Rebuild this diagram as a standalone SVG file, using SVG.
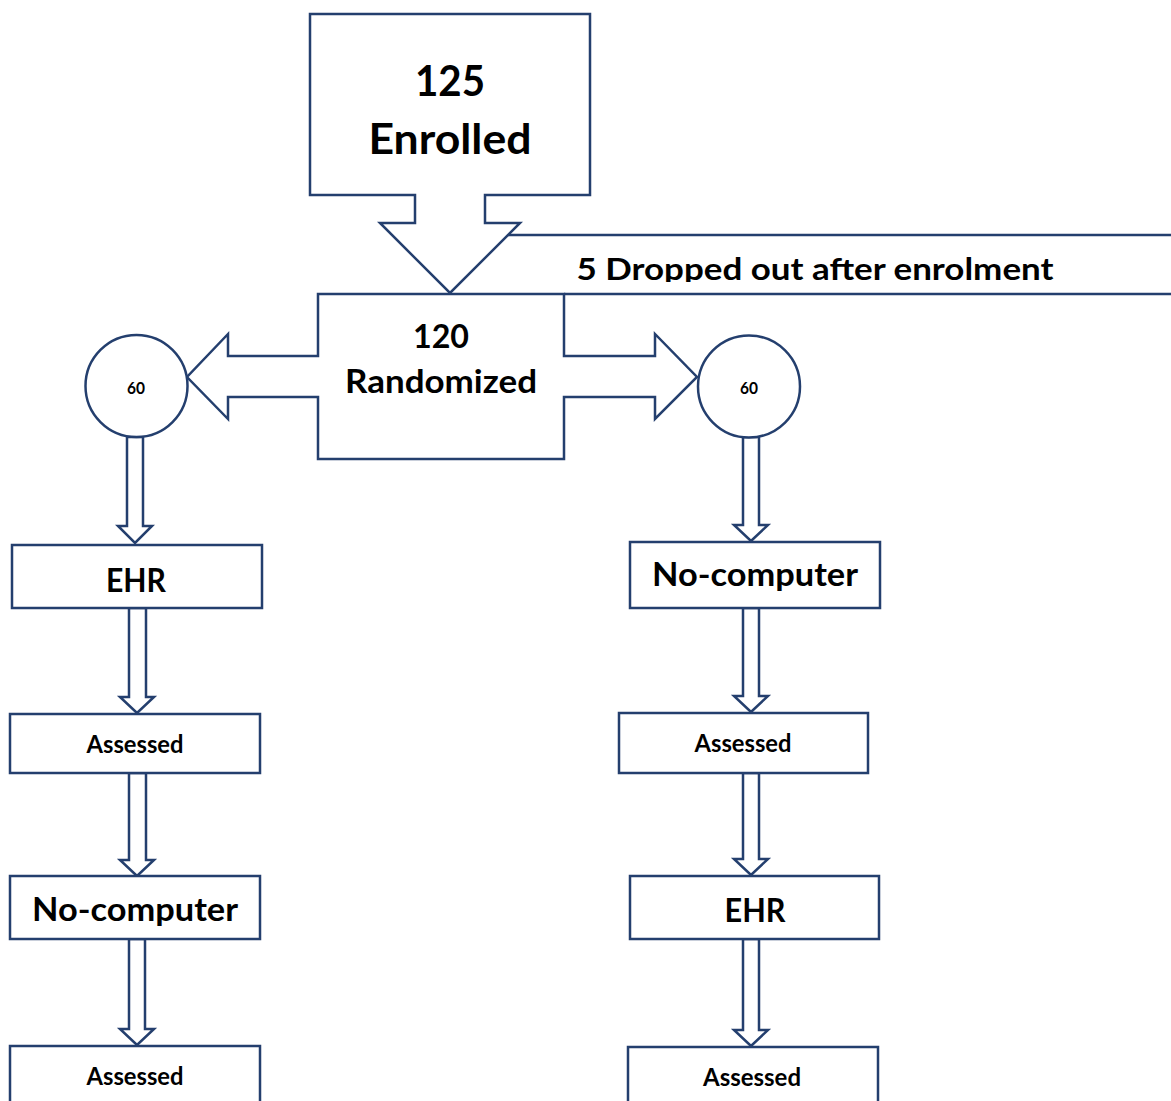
<svg xmlns="http://www.w3.org/2000/svg" width="1171" height="1101" viewBox="0 0 1171 1101">
<defs>
<style>
.sh{fill:#fff;stroke:#243F6E;stroke-width:2.5;stroke-linejoin:miter}
.ln{fill:none;stroke:#243F6E;stroke-width:2.5}
text{font-family:Lato,"Open Sans","Liberation Sans",sans-serif;font-weight:bold;fill:#000;text-anchor:middle}
.big{font-size:42px}
.mid{font-size:32px}
.box{font-size:33px}
.sm{font-size:24px}
.tiny{font-size:17px}
</style>
<clipPath id="dropClip"><rect x="540" y="237" width="631" height="45"/></clipPath>
</defs>
<rect width="1171" height="1101" fill="#fff"/>

<g id="dropped">
<line class="ln" x1="508" y1="235" x2="1171" y2="235"/>
<line class="ln" x1="564" y1="294" x2="1171" y2="294"/>
<text x="815" y="280" font-size="31" clip-path="url(#dropClip)" textLength="477" lengthAdjust="spacingAndGlyphs">5 Dropped out after enrolment</text>
</g>

<g id="enrolled">
<path class="sh" d="M310,14 H590 V195 H485 V223 H520 L450,293 L380,223 H415 V195 H310 Z"/>
<text class="big" x="450" y="96" textLength="70" lengthAdjust="spacingAndGlyphs">125</text>
<text class="big" x="450" y="154" textLength="163" lengthAdjust="spacingAndGlyphs">Enrolled</text>
</g>

<g id="randomized">
<path class="sh" d="M318,294 H564 V356 H655 V334 L697,377 L655,419 V397 H564 V459 H318 V397 H228 V419 L187,377 L228,334 V356 H318 Z"/>
<text class="mid" x="441" y="348" textLength="56" lengthAdjust="spacingAndGlyphs">120</text>
<text class="mid" x="441" y="393" textLength="192" lengthAdjust="spacingAndGlyphs">Randomized</text>
</g>

<g id="connectors">
<path class="sh" d="M127,437 V526 H118 L135,543 L152,526 H143 V437 Z"/>
<path class="sh" d="M129,608 V697 H120 L137,713 L154,697 H146 V608 Z"/>
<path class="sh" d="M129,773 V860 H120 L137,876 L154,860 H146 V773 Z"/>
<path class="sh" d="M129,939 V1029 H120 L137,1045 L154,1029 H145 V939 Z"/>
<path class="sh" d="M743,437 V525 H734 L751,541 L768,525 H759 V437 Z"/>
<path class="sh" d="M743,608 V696 H734 L751,712 L768,696 H759 V608 Z"/>
<path class="sh" d="M743,773 V859 H734 L751,875 L768,859 H759 V773 Z"/>
<path class="sh" d="M743,939 V1030 H734 L751,1046 L768,1030 H759 V939 Z"/>
</g>

<g id="circle-left">
<circle class="sh" cx="136.5" cy="386" r="51"/>
<text class="tiny" x="136" y="394" textLength="18" lengthAdjust="spacingAndGlyphs">60</text>
</g>
<g id="circle-right">
<circle class="sh" cx="749" cy="386.5" r="51"/>
<text class="tiny" x="749" y="394" textLength="18" lengthAdjust="spacingAndGlyphs">60</text>
</g>

<g id="left-ehr">
<rect class="sh" x="12" y="545" width="250" height="63"/>
<text class="box" x="136" y="592" textLength="60" lengthAdjust="spacingAndGlyphs">EHR</text>
</g>
<g id="left-assessed-1">
<rect class="sh" x="10" y="714" width="250" height="59"/>
<text class="sm" x="135" y="753" textLength="97" lengthAdjust="spacingAndGlyphs">Assessed</text>
</g>
<g id="left-nocomputer">
<rect class="sh" x="10" y="876" width="250" height="63"/>
<text class="box" x="135" y="921" textLength="206" lengthAdjust="spacingAndGlyphs">No-computer</text>
</g>
<g id="left-assessed-2">
<rect class="sh" x="10" y="1046" width="250" height="70"/>
<text class="sm" x="135" y="1085" textLength="97" lengthAdjust="spacingAndGlyphs">Assessed</text>
</g>

<g id="right-nocomputer">
<rect class="sh" x="630" y="542" width="250" height="66"/>
<text class="box" x="755" y="586" textLength="206" lengthAdjust="spacingAndGlyphs">No-computer</text>
</g>
<g id="right-assessed-1">
<rect class="sh" x="619" y="713" width="249" height="60"/>
<text class="sm" x="743" y="752" textLength="97" lengthAdjust="spacingAndGlyphs">Assessed</text>
</g>
<g id="right-ehr">
<rect class="sh" x="630" y="876" width="249" height="63"/>
<text class="box" x="755" y="922" textLength="61" lengthAdjust="spacingAndGlyphs">EHR</text>
</g>
<g id="right-assessed-2">
<rect class="sh" x="628" y="1047" width="250" height="70"/>
<text class="sm" x="752" y="1086" textLength="98" lengthAdjust="spacingAndGlyphs">Assessed</text>
</g>
</svg>
